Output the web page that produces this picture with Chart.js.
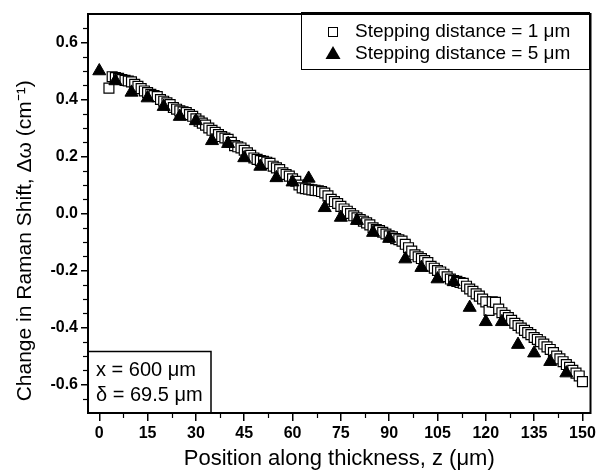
<!DOCTYPE html>
<html>
<head>
<meta charset="utf-8">
<script src="https://cdn.jsdelivr.net/npm/chart.js@4"></script>
<style>
  html, body { margin: 0; padding: 0; background: #fff; }
</style>
</head>
<body>
<canvas id="ramanChart" width="599" height="476"></canvas>
<script>
// datos
const fineZ = [3,4,5,6,7,8,9,10,11,12,13,14,15,16,17,18,19,20,21,22,23,24,25,26,27,28,29,30,
  31,32,33,34,35,36,37,38,39,40,41,42,43,44,45,46,47,48,49,50,51,52,53,54,55,56,57,58,59,60,
  61,62,63,64,65,66,67,68,69,70,71,72,73,74,75,76,77,78,79,80,81,82,83,84,85,86,87,88,89,90,
  91,92,93,94,95,96,97,98,99,100,101,102,103,104,105,106,107,108,109,110,111,112,113,114,115,
  116,117,118,119,120,121,122,123,124,125,126,127,128,129,130,131,132,133,134,135,136,137,138,
  139,140,141,142,143,144,145,146,147,148,149,150];
const fineShift = [0.44,0.48,0.477,0.474,0.47,0.467,0.465,0.462,0.453,0.446,0.438,0.43,0.424,0.418,
  0.414,0.41,0.40,0.394,0.388,0.382,0.372,0.366,0.36,0.357,0.354,0.347,0.341,0.332,0.324,0.317,
  0.31,0.30,0.292,0.285,0.277,0.27,0.265,0.26,0.25,0.238,0.234,0.23,0.222,0.213,0.204,0.195,
  0.19,0.186,0.183,0.18,0.176,0.166,0.16,0.154,0.143,0.137,0.131,0.122,0.113,0.10,0.09,0.087,
  0.085,0.083,0.081,0.08,0.077,0.072,0.062,0.05,0.042,0.035,0.025,0.016,0.008,0.0,-0.008,-0.015,
  -0.021,-0.027,-0.033,-0.04,-0.05,-0.056,-0.06,-0.066,-0.072,-0.078,-0.082,-0.088,-0.092,-0.097,
  -0.108,-0.12,-0.132,-0.145,-0.152,-0.158,-0.165,-0.172,-0.185,-0.192,-0.2,-0.205,-0.213,-0.222,
  -0.23,-0.235,-0.238,-0.242,-0.245,-0.255,-0.265,-0.273,-0.282,-0.29,-0.3,-0.31,-0.34,-0.31,
  -0.312,-0.335,-0.348,-0.357,-0.365,-0.375,-0.385,-0.393,-0.402,-0.41,-0.418,-0.425,-0.435,
  -0.442,-0.45,-0.458,-0.468,-0.477,-0.488,-0.5,-0.51,-0.52,-0.53,-0.54,-0.55,-0.56,-0.57,-0.59];

const coarseZ = [0,5,10,15,20,25,30,35,40,45,50,55,60,65,70,75,80,85,90,95,100,105,110,115,120,125,130,135,140,145];
const coarseShift = [0.50,0.465,0.425,0.405,0.375,0.34,0.325,0.255,0.245,0.195,0.165,0.125,0.11,0.123,
  0.02,-0.014,-0.025,-0.067,-0.088,-0.16,-0.19,-0.23,-0.24,-0.33,-0.38,-0.38,-0.46,-0.49,-0.52,-0.56];

const xTicks = [0,15,30,45,60,75,90,105,120,135,150];
const xMinorTicks = [7.5,22.5,37.5,52.5,67.5,82.5,97.5,112.5,127.5,142.5];
const yTicks = [-0.6,-0.4,-0.2,0.0,0.2,0.4,0.6];
const yMinorTicks = [-0.65,-0.55,-0.5,-0.45,-0.35,-0.3,-0.25,-0.15,-0.1,-0.05,
  0.05,0.1,0.15,0.25,0.3,0.35,0.45,0.5,0.55,0.65];

const legendLabels = ['Stepping distance = 1 \u03bcm', 'Stepping distance = 5 \u03bcm'];
const noteLines = ['x = 600 \u03bcm', '\u03b4 = 69.5 \u03bcm'];

const FONT = '"Liberation Sans", Arial, sans-serif';

// marco, ticks menores, leyenda y caja de notas
const extrasPlugin = {
  id: 'extras',
  afterDraw(chart) {
    const ctx = chart.ctx;
    const area = chart.chartArea;
    const xs = chart.scales.x, ys = chart.scales.y;
    ctx.save();
    ctx.strokeStyle = '#000';
    ctx.lineWidth = 1.2;
    xMinorTicks.forEach(v => {
      const px = Math.round(xs.getPixelForValue(v)) + 0.5;
      ctx.beginPath(); ctx.moveTo(px, area.bottom); ctx.lineTo(px, area.bottom + 5); ctx.stroke();
    });
    yMinorTicks.forEach(v => {
      const py = Math.round(ys.getPixelForValue(v)) + 0.5;
      ctx.beginPath(); ctx.moveTo(area.left - 5, py); ctx.lineTo(area.left, py); ctx.stroke();
    });

    // leyenda
    ctx.fillStyle = '#fff';
    ctx.fillRect(301, 12, 289, 58);
    ctx.lineWidth = 1;
    ctx.strokeRect(301.5, 12.5, 288, 57);
    ctx.strokeRect(328.5, 27.5, 9, 9);
    ctx.fillStyle = '#000';
    ctx.beginPath();
    ctx.moveTo(333, 46); ctx.lineTo(340.5, 59); ctx.lineTo(325.5, 59); ctx.closePath(); ctx.fill();
    ctx.font = '19px ' + FONT;
    ctx.textBaseline = 'middle';
    ctx.textAlign = 'left';
    ctx.fillText(legendLabels[0], 355, 32);
    ctx.fillText(legendLabels[1], 355, 54);

    // caja de notas
    ctx.fillStyle = '#fff';
    ctx.fillRect(area.left, 351, 123, area.bottom - 351);
    ctx.lineWidth = 1.5;
    ctx.strokeRect(area.left, 351.5, 123, area.bottom - 351.5);
    ctx.fillStyle = '#000';
    ctx.font = '20px ' + FONT;
    ctx.fillText(noteLines[0], 96, 370);
    ctx.fillText(noteLines[1], 96, 395);

    // marco
    ctx.lineWidth = 2;
    ctx.strokeRect(area.left, area.top, area.right - area.left, area.bottom - area.top);
    ctx.restore();
  }
};

new Chart(document.getElementById('ramanChart'), {
  type: 'scatter',
  data: {
    datasets: [
      {
        label: legendLabels[1],
        data: coarseZ.map((z, i) => ({ x: z, y: coarseShift[i] })),
        pointStyle: 'triangle',
        pointRadius: 7.5,
        backgroundColor: '#000',
        borderColor: '#000',
        borderWidth: 1
      },
      {
        label: legendLabels[0],
        data: fineZ.map((z, i) => ({ x: z, y: fineShift[i] })),
        pointStyle: 'rect',
        pointRadius: 7,
        backgroundColor: '#fff',
        borderColor: '#000',
        borderWidth: 1.2
      }
    ]
  },
  options: {
    responsive: false,
    animation: false,
    layout: { padding: { left: 0, right: 4, top: 14, bottom: 0 } },
    plugins: { legend: { display: false }, tooltip: { enabled: false } },
    scales: {
      x: {
        type: 'linear',
        min: -3.5,
        max: 152.5,
        afterBuildTicks: s => { s.ticks = xTicks.map(v => ({ value: v })); },
        afterFit: s => { s.height = 63; },
        border: { display: false },
        grid: { drawOnChartArea: false, tickLength: 8, color: '#000', lineWidth: 1.5 },
        ticks: { color: '#000', font: { family: FONT, size: 16, weight: 'bold' }, padding: 3, maxRotation: 0 },
        title: {
          display: true,
          text: 'Position along thickness, z (\u03bcm)',
          color: '#000',
          font: { family: FONT, size: 22 },
          padding: { top: 0, bottom: 4 }
        }
      },
      y: {
        min: -0.7,
        max: 0.7,
        afterBuildTicks: s => { s.ticks = yTicks.map(v => ({ value: v })); },
        afterFit: s => { s.width = 88; },
        border: { display: false },
        grid: { drawOnChartArea: false, tickLength: 7, color: '#000', lineWidth: 1.5 },
        ticks: { color: '#000', font: { family: FONT, size: 16, weight: 'bold' }, padding: 3,
          callback: v => v.toFixed(1) },
        title: {
          display: true,
          align: 'start',
          text: '  Change in Raman Shift, \u0394\u03c9 (cm\u207b\u00b9)',
          color: '#000',
          font: { family: FONT, size: 21 },
          padding: { top: 13, bottom: 0 }
        }
      }
    }
  },
  plugins: [extrasPlugin]
});
</script>
</body>
</html>
